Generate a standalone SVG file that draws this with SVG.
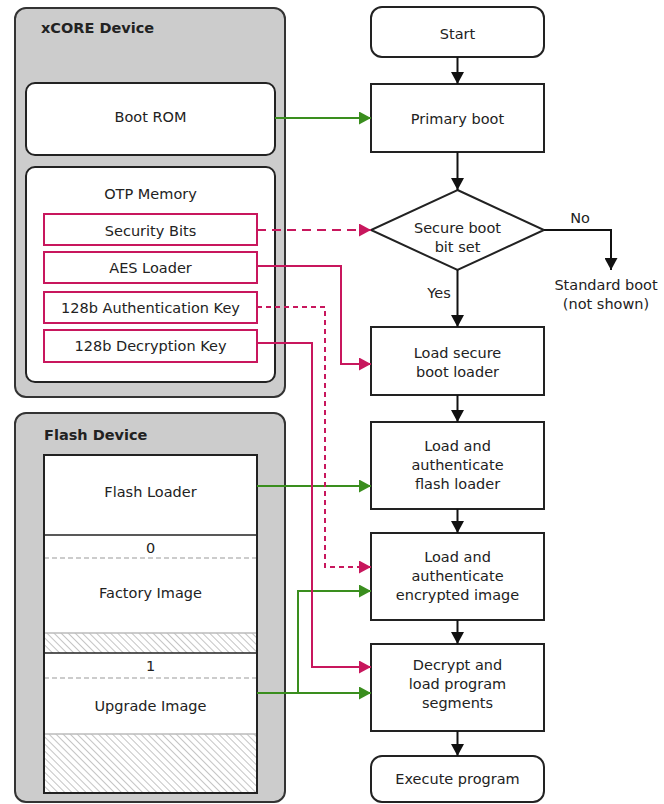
<svg xmlns="http://www.w3.org/2000/svg" width="664" height="804" viewBox="0 0 664 804">
<style>
text{font-family:"DejaVu Sans","Liberation Sans",sans-serif;font-size:14.5px;fill:#222;text-anchor:middle}
.b{font-weight:bold;text-anchor:start}
.dev{fill:#cccccc;stroke:#333;stroke-width:2}
.wb{fill:#fff;stroke:#222;stroke-width:2}
.pk{fill:#fff;stroke:#c8175d;stroke-width:2}
.k{fill:none;stroke:#111;stroke-width:2}
.g{fill:none;stroke:#3a8e1e;stroke-width:2}
.p{fill:none;stroke:#c8175d;stroke-width:2}
.d1{stroke-dasharray:9 6}
.d2{stroke-dasharray:5 4}
.hl{fill:none;stroke:#999;stroke-width:1;stroke-dasharray:5 3}
</style>
<defs>
<marker id="ak" markerUnits="userSpaceOnUse" markerWidth="13" markerHeight="13" refX="12" refY="6.5" orient="auto"><path d="M0,0 L12,6.5 L0,13 z" fill="#111"/></marker>
<marker id="ag" markerUnits="userSpaceOnUse" markerWidth="13" markerHeight="13" refX="12" refY="6.5" orient="auto"><path d="M0,0 L12,6.5 L0,13 z" fill="#3a8e1e"/></marker>
<marker id="ap" markerUnits="userSpaceOnUse" markerWidth="13" markerHeight="13" refX="12" refY="6.5" orient="auto"><path d="M0,0 L12,6.5 L0,13 z" fill="#c8175d"/></marker>
<pattern id="hatch" patternUnits="userSpaceOnUse" width="5" height="5" patternTransform="rotate(-45)"><rect width="5" height="5" fill="#fff"/><line x1="0" y1="0" x2="0" y2="5" stroke="#8a8a8a" stroke-width="1"/></pattern>
</defs>

<g id="xcore-device">
<rect class="dev" x="15" y="8" width="270" height="389" rx="11"/>
<text class="b" x="41" y="33">xCORE Device</text>
</g>
<g id="boot-rom">
<rect class="wb" x="26" y="83" width="249" height="72" rx="9"/>
<text x="150.5" y="122">Boot ROM</text>
</g>
<g id="otp-memory">
<rect class="wb" x="26" y="167" width="249" height="215" rx="9"/>
<text x="150.5" y="199">OTP Memory</text>
</g>
<g id="security-bits">
<rect class="pk" x="44" y="214" width="213" height="31"/>
<text x="150.5" y="236">Security Bits</text>
</g>
<g id="aes-loader">
<rect class="pk" x="44" y="252" width="213" height="31"/>
<text x="150.5" y="273">AES Loader</text>
</g>
<g id="auth-key">
<rect class="pk" x="44" y="292" width="213" height="31"/>
<text x="150.5" y="313">128b Authentication Key</text>
</g>
<g id="decrypt-key">
<rect class="pk" x="44" y="330" width="213" height="32"/>
<text x="150.5" y="351">128b Decryption Key</text>
</g>

<g id="flash-device">
<rect class="dev" x="15" y="413" width="270" height="389" rx="11"/>
<text class="b" x="44" y="440">Flash Device</text>
<rect x="44" y="455" width="213" height="338" fill="#fff"/>
<rect x="44" y="633" width="213" height="20" fill="url(#hatch)"/>
<line x1="44" y1="633" x2="257" y2="633" stroke="#bbb" stroke-width="1.5"/>
<rect x="44" y="734" width="213" height="59" fill="url(#hatch)"/>
<line x1="44" y1="734" x2="257" y2="734" stroke="#bbb" stroke-width="1.5"/>
<line x1="44" y1="535" x2="257" y2="535" stroke="#222" stroke-width="1.5"/>
<line x1="44" y1="653" x2="257" y2="653" stroke="#222" stroke-width="1.5"/>
<line class="hl" x1="44" y1="558" x2="257" y2="558"/>
<line class="hl" x1="44" y1="678" x2="257" y2="678"/>
<rect x="44" y="455" width="213" height="338" fill="none" stroke="#222" stroke-width="2"/>
</g>
<g id="flash-loader"><text x="150.5" y="497">Flash Loader</text></g>
<g id="factory-image"><text x="150.5" y="553">0</text><text x="150.5" y="598">Factory Image</text></g>
<g id="upgrade-image"><text x="150.5" y="671">1</text><text x="150.5" y="711">Upgrade Image</text></g>

<g id="start">
<rect class="wb" x="371" y="7" width="173" height="50" rx="11"/>
<text x="457.5" y="39">Start</text>
</g>
<g id="primary-boot">
<rect class="wb" x="371" y="84" width="173" height="68"/>
<text x="457.5" y="124">Primary boot</text>
</g>
<g id="secure-bit">
<polygon class="wb" points="457.5,190 544,230 457.5,270 371,230"/>
<text x="457.5" y="233">Secure boot</text>
<text x="457.5" y="252">bit set</text>
</g>
<g id="standard-boot">
<text x="606" y="290">Standard boot</text>
<text x="606" y="309">(not shown)</text>
</g>
<g id="load-secure">
<rect class="wb" x="371" y="327" width="173" height="68"/>
<text x="457.5" y="358">Load secure</text>
<text x="457.5" y="377">boot loader</text>
</g>
<g id="load-flash">
<rect class="wb" x="371" y="422" width="173" height="87"/>
<text x="457.5" y="451">Load and</text>
<text x="457.5" y="470">authenticate</text>
<text x="457.5" y="489">flash loader</text>
</g>
<g id="load-encrypted">
<rect class="wb" x="371" y="533" width="173" height="87"/>
<text x="457.5" y="562">Load and</text>
<text x="457.5" y="581">authenticate</text>
<text x="457.5" y="600">encrypted image</text>
</g>
<g id="decrypt">
<rect class="wb" x="371" y="644" width="173" height="87"/>
<text x="457.5" y="670">Decrypt and</text>
<text x="457.5" y="689">load program</text>
<text x="457.5" y="708">segments</text>
</g>
<g id="execute">
<rect class="wb" x="371" y="756" width="173" height="46" rx="11"/>
<text x="457.5" y="784">Execute program</text>
</g>

<g id="connectors">
<line class="k" x1="457.5" y1="57" x2="457.5" y2="84" marker-end="url(#ak)"/>
<line class="k" x1="457.5" y1="152" x2="457.5" y2="190" marker-end="url(#ak)"/>
<line class="k" x1="457.5" y1="270" x2="457.5" y2="327" marker-end="url(#ak)"/>
<line class="k" x1="457.5" y1="395" x2="457.5" y2="422" marker-end="url(#ak)"/>
<line class="k" x1="457.5" y1="509" x2="457.5" y2="533" marker-end="url(#ak)"/>
<line class="k" x1="457.5" y1="620" x2="457.5" y2="644" marker-end="url(#ak)"/>
<line class="k" x1="457.5" y1="731" x2="457.5" y2="756" marker-end="url(#ak)"/>
<polyline class="k" points="544,230 611,230 611,270" marker-end="url(#ak)"/>
<text x="580" y="223">No</text>
<text x="439" y="298">Yes</text>
<line class="g" x1="275" y1="118" x2="371" y2="118" marker-end="url(#ag)"/>
<line class="g" x1="257" y1="486" x2="371" y2="486" marker-end="url(#ag)"/>
<line class="g" x1="257" y1="693" x2="371" y2="693" marker-end="url(#ag)"/>
<polyline class="g" points="298,693 298,591 371,591" marker-end="url(#ag)"/>
<line class="p d1" x1="257" y1="230" x2="371" y2="230" marker-end="url(#ap)"/>
<polyline class="p" points="257,266 341,266 341,364 371,364" marker-end="url(#ap)"/>
<polyline class="p d2" points="257,307 325,307 325,567 371,567" marker-end="url(#ap)"/>
<polyline class="p" points="257,343 312,343 312,667 371,667" marker-end="url(#ap)"/>
</g>
</svg>
